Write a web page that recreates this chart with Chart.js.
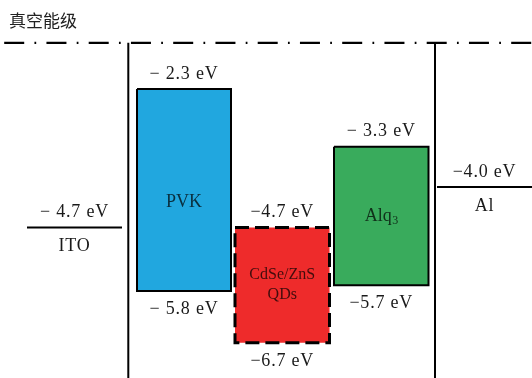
<!DOCTYPE html>
<html>
<head>
<meta charset="utf-8">
<script src="https://cdn.jsdelivr.net/npm/chart.js@4/dist/chart.umd.min.js"></script>
<style>
  html, body { margin: 0; padding: 0; background: #ffffff; }
  #wrap { position: relative; width: 532px; height: 378px; }
</style>
</head>
<body>
<div id="wrap"><canvas id="levels"></canvas></div>
<script>
// Energy levels (eV) of each layer in the device stack
const layerNames  = ['ITO', 'PVK', 'CdSe/ZnS\nQDs', 'Alq|3', 'Al'];
const upperLevels = [-4.7, -2.3, -4.7, -3.3, -4.0];   // work function / LUMO / conduction band
const lowerLevels = [null, -5.8, -6.7, -5.7, null];   // HOMO / valence band
const vacuumLevel = -1.5;
const titleText   = '真空能级';

// Drawing layout (horizontal extent of each column, electrode walls)
const columnSpans    = [[27, 122], [137, 231], [235, 329.5], [334, 428.5], [437, 532]];
const electrodeWalls = [128.3, 435];
const layerFills     = [null, '#21a7df', '#ee2b2b', '#39ab5c', null];
const layerBorder    = [null, 'solid', 'dashed', 'solid', null];
const spacedMinusUp  = [true, true, false, true, false];
const spacedMinusLow = [false, true, false, false, false];
const yRange = { min: -7.309, max: -0.757 };

function fmtEv(v, spaced) {
  return (spaced ? '\u2212 ' : '\u2212') + Math.abs(v).toFixed(1) + ' eV';
}

const datasets = [];

// vacuum level
datasets.push({
  data: [{ x: 4.2, y: vacuumLevel }, { x: 532, y: vacuumLevel }],
  borderColor: '#000', borderWidth: 2.2,
  borderDash: [20, 10.25, 1.75, 10.25]
});

// electrode walls
electrodeWalls.forEach(w => datasets.push({
  data: [{ x: w, y: vacuumLevel }, { x: w, y: yRange.min - 0.2 }],
  borderColor: '#000', borderWidth: 2
}));

layerNames.forEach((name, i) => {
  const [x0, x1] = columnSpans[i];
  if (lowerLevels[i] === null) {
    // electrode: single Fermi level line
    datasets.push({
      data: [{ x: x0, y: upperLevels[i] }, { x: x1, y: upperLevels[i] }],
      borderColor: '#000', borderWidth: 2
    });
  } else {
    const hi = upperLevels[i], lo = lowerLevels[i];
    datasets.push({
      data: [{ x: x0, y: hi }, { x: x1, y: hi }, { x: x1, y: lo }, { x: x0, y: lo }, { x: x0, y: hi }],
      borderColor: '#000',
      borderWidth: layerBorder[i] === 'dashed' ? 3 : 2,
      borderDash: layerBorder[i] === 'dashed' ? [14, 6] : [],
      borderJoinStyle: 'miter',
      backgroundColor: layerFills[i],
      fill: 'shape'
    });
  }
});

const labelPlugin = {
  id: 'levelLabels',
  afterDatasetsDraw(chart) {
    const { ctx, scales: { x, y } } = chart;
    ctx.save();
    ctx.textAlign = 'center';
    ctx.textBaseline = 'middle';
    const serif = '"Liberation Serif", "DejaVu Serif", serif';

    // title
    ctx.fillStyle = '#222';
    ctx.textAlign = 'left';
    ctx.font = '17px "Noto Sans CJK SC", sans-serif';
    ctx.fillText(titleText, 9, 21);
    ctx.textAlign = 'center';

    layerNames.forEach((name, i) => {
      const cx = x.getPixelForValue((columnSpans[i][0] + columnSpans[i][1]) / 2);
      const top = y.getPixelForValue(upperLevels[i]);
      ctx.font = '18px ' + serif;
      ctx.letterSpacing = '0.8px';
      ctx.fillStyle = '#1a1a1a';
      ctx.fillText(fmtEv(upperLevels[i], spacedMinusUp[i]), cx, top - 15);
      if (lowerLevels[i] === null) {
        ctx.fillText(name, cx, top + 19);
        ctx.letterSpacing = '0px';
        return;
      }
      const bot = y.getPixelForValue(lowerLevels[i]);
      ctx.fillText(fmtEv(lowerLevels[i], spacedMinusLow[i]), cx, bot + 18);
      ctx.letterSpacing = '0px';

      // layer name inside the box
      const mid = (top + bot) / 2;
      ctx.fillStyle = 'rgba(0,0,0,0.72)';
      if (name.includes('|')) {
        const [base, sub] = name.split('|');
        ctx.font = '18px ' + serif;
        const wb = ctx.measureText(base).width;
        ctx.font = '12px ' + serif;
        const ws = ctx.measureText(sub).width;
        const start = cx - (wb + ws) / 2;
        ctx.textAlign = 'left';
        ctx.font = '18px ' + serif;
        ctx.fillText(base, start, mid);
        ctx.font = '12px ' + serif;
        ctx.fillText(sub, start + wb + 0.5, mid + 5);
        ctx.textAlign = 'center';
      } else {
        const lines = name.split('\n');
        ctx.font = (lines.length > 1 ? '16px ' : '18px ') + serif;
        const lh = 20;
        lines.forEach((ln, k) => {
          ctx.fillText(ln, cx, mid + (k - (lines.length - 1) / 2) * lh + (lines.length > 1 ? 0 : 12));
        });
      }
    });
    ctx.restore();
  }
};

new Chart(document.getElementById('levels'), {
  type: 'scatter',
  data: { datasets: datasets.map(d => Object.assign({ showLine: true, pointRadius: 0, borderCapStyle: 'butt', tension: 0 }, d)) },
  options: {
    responsive: true,
    maintainAspectRatio: false,
    animation: false,
    layout: { padding: 0 },
    plugins: { legend: { display: false }, tooltip: { enabled: false }, title: { display: false } },
    scales: {
      x: { type: 'linear', min: 0, max: 532, display: false },
      y: { type: 'linear', min: yRange.min, max: yRange.max, display: false }
    },
    events: []
  },
  plugins: [labelPlugin]
});
</script>
</body>
</html>
